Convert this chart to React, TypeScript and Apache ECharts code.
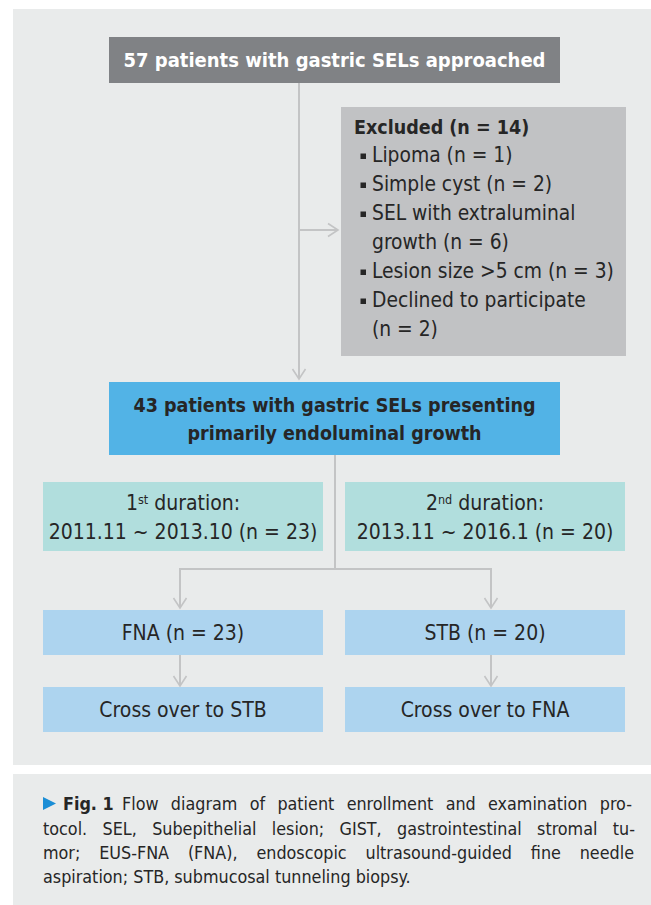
import React, { useEffect, useRef } from "react";
import * as echarts from "echarts";

const topLabel = "57 patients with gastric SELs approached";
const excludedTitle = "Excluded (n = 14)";
const excludedItems: string[][] = [
  ["Lipoma (n = 1)"],
  ["Simple cyst (n = 2)"],
  ["SEL with extraluminal", "growth (n = 6)"],
  ["Lesion size >5 cm (n = 3)"],
  ["Declined to participate", "(n = 2)"],
];
const includedLines = ["43 patients with gastric SELs presenting", "primarily endoluminal growth"];
const durationOrdinals = [["1", "st"], ["2", "nd"]];
const durationRanges = ["2011.11 ~ 2013.10 (n = 23)", "2013.11 ~ 2016.1 (n = 20)"];
const armLabels = ["FNA (n = 23)", "STB (n = 20)"];
const crossoverLabels = ["Cross over to STB", "Cross over to FNA"];
const captionLead = "Fig. 1";
const captionLines = [
  "Flow diagram of patient enrollment and examination pro-",
  "tocol. SEL, Subepithelial lesion; GIST, gastrointestinal stromal tu-",
  "mor; EUS-FNA (FNA), endoscopic ultrasound-guided fine needle",
  "aspiration; STB, submucosal tunneling biopsy.",
];

const FONT = "'DejaVu Sans Condensed', Lato, sans-serif";
const DARK = "#262626";
const LINE = "#c3c4c5";

function arrowDown(x: number, tip: number): any {
  return {
    type: "polyline",
    shape: { points: [[x - 6.5, tip - 10], [x, tip], [x + 6.5, tip - 10]] },
    style: { stroke: LINE, lineWidth: 1.6, fill: null },
  };
}
function arrowRight(tip: number, y: number): any {
  return {
    type: "polyline",
    shape: { points: [[tip - 10, y - 6.5], [tip, y], [tip - 10, y + 6.5]] },
    style: { stroke: LINE, lineWidth: 1.6, fill: null },
  };
}
function line(points: number[][]): any {
  return { type: "polyline", shape: { points }, style: { stroke: LINE, lineWidth: 2, fill: null } };
}
function rect(x: number, y: number, w: number, h: number, fill: string): any {
  return { type: "rect", shape: { x, y, width: w, height: h }, style: { fill } };
}
function text(t: string, x: number, y: number, opts: any = {}): any {
  return {
    type: "text",
    style: {
      text: t,
      x,
      y,
      fill: opts.fill || DARK,
      fontSize: opts.fontSize || 21,
      fontFamily: FONT,
      fontWeight: opts.fontWeight || "normal",
      textAlign: opts.align || "center",
      textVerticalAlign: "middle",
      rich: opts.rich,
    },
  };
}

function measure(ctx: CanvasRenderingContext2D | null, t: string, size: number, weight = "normal") {
  if (!ctx) return t.length * size * 0.5;
  ctx.font = `${weight} ${size}px ${FONT}`;
  return ctx.measureText(t).width;
}

function justified(
  els: any[],
  ctx: CanvasRenderingContext2D | null,
  t: string,
  x0: number,
  x1: number,
  y: number,
  size: number
) {
  const words = t.split(" ");
  const widths = words.map((w) => measure(ctx, w, size));
  const total = widths.reduce((a, b) => a + b, 0);
  const gap = words.length > 1 ? (x1 - x0 - total) / (words.length - 1) : 0;
  let x = x0;
  words.forEach((w, i) => {
    els.push(text(w, x, y, { align: "left", fontSize: size }));
    x += widths[i] + gap;
  });
}

export default function App() {
  const ref = useRef<HTMLDivElement>(null);
  useEffect(() => {
    if (!ref.current) return;
    const chart = echarts.init(ref.current, null, { renderer: "svg" });
    const ctx = document.createElement("canvas").getContext("2d");
    const els: any[] = [];
    const BODY = 21;
    // panels
    els.push(rect(13, 9, 640, 756, "#e9ebeb"));
    els.push(rect(13, 774, 640, 135, "#e9ebeb"));

    // connectors
    els.push(line([[299, 83], [299, 378]]));
    els.push(arrowDown(299, 379));
    els.push(line([[299, 230], [337, 230]]));
    els.push(arrowRight(338, 230));
    els.push(line([[335, 455], [335, 569]]));
    els.push(line([[180, 608], [180, 569], [491, 569], [491, 608]]));
    els.push(arrowDown(180, 608));
    els.push(arrowDown(491, 608));
    els.push(line([[180, 655], [180, 685]]));
    els.push(line([[491, 655], [491, 685]]));
    els.push(arrowDown(180, 686));
    els.push(arrowDown(491, 686));

    // top box
    els.push(rect(109, 37, 451, 46, "#808285"));
    els.push(text(topLabel, 334.5, 60, { fill: "#ffffff", fontWeight: "bold", fontSize: 20 }));

    // excluded box
    els.push(rect(341, 107, 285, 249, "#c1c2c4"));
    els.push(text(excludedTitle, 354, 127, { align: "left", fontWeight: "bold", fontSize: 19.5 }));
    let ly = 155;
    excludedItems.forEach((item) => {
      els.push(rect(360.5, ly - 1.5, 5.5, 5.5, DARK));
      item.forEach((t) => {
        els.push(text(t, 372, ly, { align: "left", fontSize: 20.8 }));
        ly += 29;
      });
    });

    // included box
    els.push(rect(109, 382, 451, 73, "#52b3e6"));
    includedLines.forEach((t, i) =>
      els.push(text(t, 334.5, 405 + i * 28, { fontWeight: "bold", fontSize: 19.5 }))
    );

    // durations
    const colX = [43, 345];
    const colW = 280;
    durationOrdinals.forEach((o, i) => {
      const cx = colX[i] + colW / 2;
      els.push(rect(colX[i], 482, colW, 69, "#b1dedd"));
      els.push(
        text(`{n|${o[0]}}{s|${o[1]}}{n| duration:}`, cx, 503, {
          rich: {
            n: { fontSize: BODY, fontFamily: FONT },
            s: { fontSize: 12.5, fontFamily: FONT, verticalAlign: "top" },
          },
        })
      );
      els.push(text(durationRanges[i], cx, 532, { fontSize: BODY }));
      els.push(rect(colX[i], 610, colW, 45, "#add4ef"));
      els.push(text(armLabels[i], cx, 633, { fontSize: BODY }));
      els.push(rect(colX[i], 687, colW, 45, "#add4ef"));
      els.push(text(crossoverLabels[i], cx, 710, { fontSize: BODY }));
    });

    // caption
    const CAP = 17.8;
    els.push({
      type: "polygon",
      shape: { points: [[43, 797], [56, 803.5], [43, 810]] },
      style: { fill: "#1b8ed6" },
    });
    els.push(text(captionLead, 63, 803, { align: "left", fontSize: CAP, fontWeight: "bold" }));
    justified(els, ctx, captionLines[0], 122, 632, 803, CAP);
    justified(els, ctx, captionLines[1], 43, 635, 828, CAP);
    justified(els, ctx, captionLines[2], 43, 634, 852, CAP);
    els.push(text(captionLines[3], 43, 876, { align: "left", fontSize: CAP }));

    chart.setOption({ animation: false, graphic: { elements: els } });
    return () => chart.dispose();
  }, []);
  return (
    <div
      ref={ref}
      style={{ position: "fixed", left: 0, top: 0, width: 651, height: 905, background: "#ffffff" }}
    />
  );
}
